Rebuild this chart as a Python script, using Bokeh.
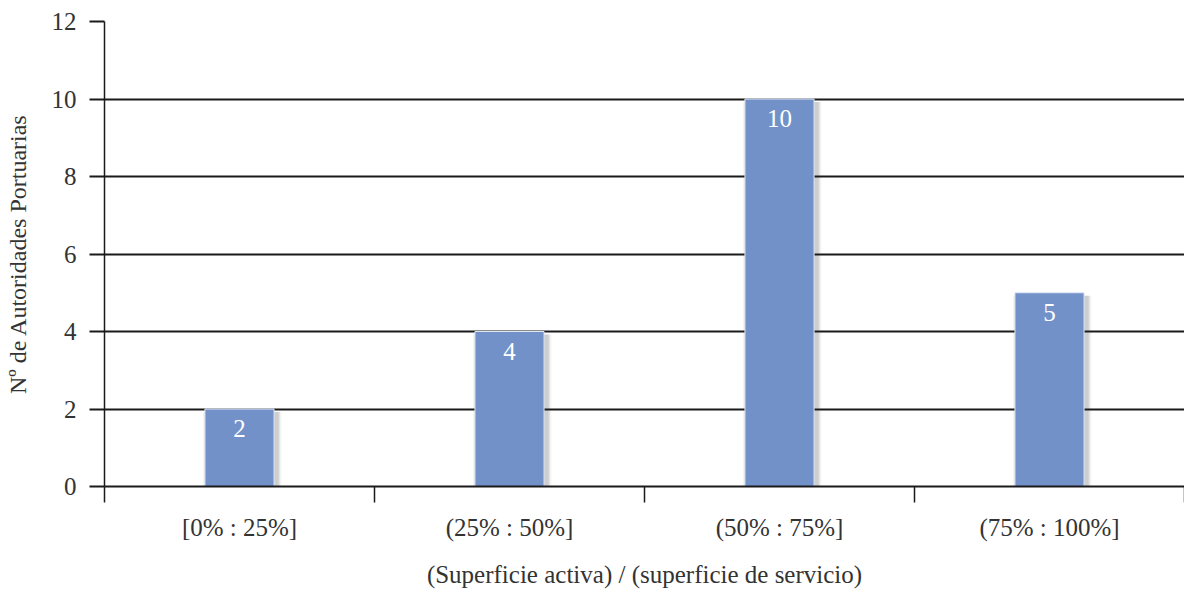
from bokeh.plotting import figure
from bokeh.models import Range1d, FixedTicker, ColumnDataSource
from bokeh.embed import file_html
from bokeh.resources import INLINE
from bokeh.core.properties import value

categories = ["[0% : 25%]", "(25% : 50%]", "(50% : 75%]", "(75% : 100%]"]
counts = [2, 4, 10, 5]
y_ticks = [0, 2, 4, 6, 8, 10, 12]

FONT = "Liberation Serif"
BAR_COLOR = "#7291c8"

centers = [i + 0.5 for i in range(len(categories))]
bounds = [i for i in range(len(categories) + 1)]

p = figure(width=1184, height=592, output_backend="svg", toolbar_location=None,
           x_range=Range1d(0, len(categories)), y_range=Range1d(0, 12),
           min_border_left=104, min_border_right=0, min_border_top=21, min_border_bottom=106)
p.outline_line_color = None
p.xgrid.grid_line_color = None
p.ygrid.grid_line_color = "#1a1a1a"
p.ygrid.grid_line_width = 2
p.ygrid.ticker = FixedTicker(ticks=y_ticks)

src = ColumnDataSource(dict(x=centers, top=counts, label=[str(c) for c in counts]))
shadow = ColumnDataSource(dict(x=[c + 0.010 for c in centers], top=[c - 0.08 for c in counts]))

for w, a in [(0.29, 0.05), (0.28, 0.08), (0.27, 0.12)]:
    p.vbar(x="x", top="top", bottom=-0.3, width=w, source=shadow,
           fill_color="#303030", fill_alpha=a, line_color=None)
p.vbar(x="x", top="top", bottom=0, width=0.256, source=src,
       fill_color=BAR_COLOR, line_color="#dfe6f3", line_width=1)
p.text(x="x", y="top", text="label", source=src, text_color="white",
       text_font=value(FONT), text_font_size="25px", text_align="center",
       text_baseline="top", y_offset=11)

# x axis
xa = p.xaxis[0]
xa.ticker = FixedTicker(ticks=centers, minor_ticks=bounds)
xa.major_label_overrides = {c: lab for c, lab in zip(centers, categories)}
xa.major_tick_out = 0
xa.major_tick_in = 0
xa.minor_tick_out = 16
xa.minor_tick_in = 0
xa.minor_tick_line_color = "#1a1a1a"
xa.minor_tick_line_width = 1.5
xa.axis_line_color = "#1a1a1a"
xa.axis_line_width = 2
xa.major_label_text_font = FONT
xa.major_label_text_font_size = "25px"
xa.major_label_text_color = "#333333"
xa.major_label_standoff = 11
xa.axis_label = "(Superficie activa) / (superficie de servicio)"
xa.axis_label_text_font = FONT
xa.axis_label_text_font_size = "25px"
xa.axis_label_text_font_style = "normal"
xa.axis_label_text_color = "#333333"
xa.axis_label_standoff = 17

# y axis
ya = p.yaxis[0]
ya.ticker = FixedTicker(ticks=y_ticks)
ya.major_tick_out = 15
ya.major_tick_in = 0
ya.major_tick_line_color = "#1a1a1a"
ya.major_tick_line_width = 2
ya.minor_tick_line_color = None
ya.axis_line_color = "#1a1a1a"
ya.axis_line_width = 1.5
ya.major_label_text_font = FONT
ya.major_label_text_font_size = "25px"
ya.major_label_text_color = "#333333"
ya.major_label_standoff = 13
ya.axis_label = "Nº de Autoridades Portuarias"
ya.axis_label_text_font = FONT
ya.axis_label_text_font_size = "24px"
ya.axis_label_text_font_style = "normal"
ya.axis_label_text_color = "#333333"
ya.axis_label_standoff = 18

open("out.html", "w").write(file_html(p, INLINE))
